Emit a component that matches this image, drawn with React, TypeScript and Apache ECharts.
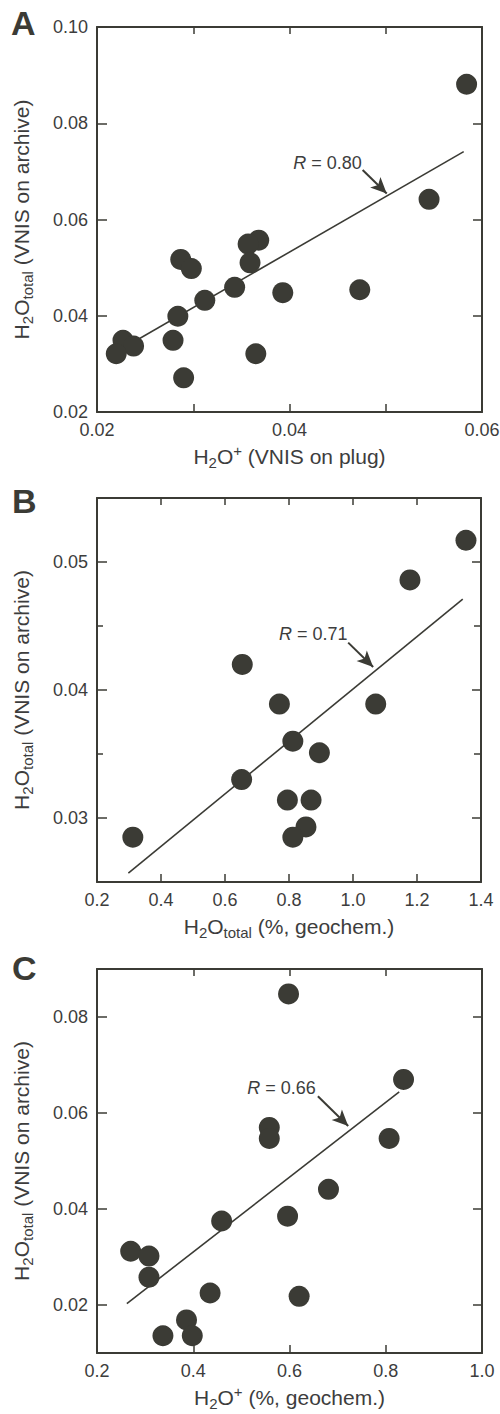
import React, { useEffect, useRef } from "react";
import * as echarts from "echarts";

// ---------- data ----------
const A_x = [0.0584, 0.0545, 0.0368, 0.0357, 0.0359, 0.0287, 0.0298, 0.0343, 0.0393, 0.0473, 0.0312, 0.0284, 0.0227, 0.0238, 0.022, 0.0279, 0.0365, 0.029];
const A_y = [0.0881, 0.0642, 0.0557, 0.0549, 0.051, 0.0517, 0.0498, 0.0459, 0.0448, 0.0454, 0.0432, 0.0399, 0.0349, 0.0337, 0.0321, 0.0349, 0.0321, 0.0271];
const A_fit = [[0.0215, 0.0319], [0.0581, 0.0741]];
const A_R = "0.80";
const A_Rpos = [0.0404, 0.0717];
const A_arrow = [[0.0476, 0.0703], [0.0501, 0.0654]];
const A_xTicks = [0.02, 0.03, 0.04, 0.05, 0.06];
const A_xLabels = [0.02, 0.04, 0.06];
const A_yLabels = [0.02, 0.04, 0.06, 0.08, 0.1];

const B_x = [1.353, 1.178, 0.654, 0.77, 1.071, 0.812, 0.895, 0.652, 0.795, 0.869, 0.853, 0.812, 0.312];
const B_y = [0.0517, 0.0486, 0.042, 0.0389, 0.0389, 0.036, 0.0351, 0.033, 0.0314, 0.0314, 0.0293, 0.0285, 0.0285];
const B_fit = [[0.298, 0.0257], [1.343, 0.0471]];
const B_R = "0.71";
const B_Rpos = [0.769, 0.0444];
const B_arrow = [[0.985, 0.0437], [1.063, 0.0418]];
const B_xLabels = [0.2, 0.4, 0.6, 0.8, 1.0, 1.2, 1.4];
const B_yLabels = [0.03, 0.04, 0.05];
const B_yMinor = [0.035, 0.045];

const C_x = [0.598, 0.837, 0.558, 0.558, 0.807, 0.681, 0.459, 0.596, 0.27, 0.308, 0.308, 0.435, 0.62, 0.386, 0.337, 0.398];
const C_y = [0.0848, 0.067, 0.057, 0.0547, 0.0547, 0.0441, 0.0375, 0.0385, 0.0312, 0.0302, 0.0258, 0.0225, 0.0218, 0.0169, 0.0136, 0.0136];
const C_fit = [[0.262, 0.0203], [0.828, 0.0644]];
const C_R = "0.66";
const C_Rpos = [0.512, 0.0653];
const C_arrow = [[0.659, 0.0635], [0.722, 0.0573]];
const C_xLabels = [0.2, 0.4, 0.6, 0.8, 1.0];
const C_yLabels = [0.02, 0.04, 0.06, 0.08];

// ---------- style ----------
const INK = "#3b3b35";
const TXT = "#3d3d3d";
const FONT = "'Liberation Sans', Arial, Helvetica, sans-serif";
const TICK_FS = 18;
const TITLE_FS = 21;

function titleRich(fs: number) {
  const sub = Math.round(fs * 0.7);
  return {
    m: { fontSize: fs, lineHeight: fs + 6, fontFamily: FONT, color: TXT },
    s: { fontSize: sub, lineHeight: sub, verticalAlign: "bottom", fontFamily: FONT, color: TXT },
    p: { fontSize: sub, lineHeight: sub, verticalAlign: "top", fontFamily: FONT, color: TXT },
  };
}

const NAME_Y = "{m|H}{s|2}{m|O}{s|total}{m| (VNIS on archive)}";
const NAME_XA = "{m|H}{s|2}{m|O}{p|+}{m| (VNIS on plug)}";
const NAME_XB = "{m|H}{s|2}{m|O}{s|total}{m| (%, geochem.)}";
const NAME_XC = "{m|H}{s|2}{m|O}{p|+}{m| (%, geochem.)}";

function lineStyle() {
  return { show: true, lineStyle: { color: INK, width: 2 } };
}

function xAxes(grid: number, min: number, max: number, ticks: number[], labels: number[], dec: number, name: string) {
  const common = {
    type: "value",
    gridIndex: grid,
    min,
    max,
    splitLine: { show: false },
    axisLine: lineStyle(),
  };
  return [
    {
      ...common,
      position: "bottom",
      name,
      nameLocation: "middle",
      nameGap: 31,
      nameMoveOverlap: false,
      nameTextStyle: { rich: titleRich(TITLE_FS) },
      axisTick: { show: true, inside: true, length: 8, customValues: ticks, lineStyle: { color: INK, width: 1.5 } },
      axisLabel: {
        show: true,
        customValues: labels,
        margin: 9,
        fontSize: TICK_FS,
        fontFamily: FONT,
        color: TXT,
        formatter: (v: number) => v.toFixed(dec),
      },
    },
    {
      ...common,
      position: "top",
      axisTick: { show: true, inside: true, length: 7, customValues: ticks, lineStyle: { color: INK, width: 1.5 } },
      axisLabel: { show: false },
    },
  ];
}

function yAxes(grid: number, min: number, max: number, ticks: number[], labels: number[], dec: number, minor?: number[]) {
  const common = {
    type: "value",
    gridIndex: grid,
    min,
    max,
    splitLine: { show: false },
    axisLine: lineStyle(),
  };
  const axes: any[] = [
    {
      ...common,
      position: "left",
      name: NAME_Y,
      nameLocation: "middle",
      nameRotate: 90,
      nameGap: 62,
      nameMoveOverlap: false,
      nameTextStyle: { rich: titleRich(TITLE_FS) },
      axisTick: { show: true, inside: true, length: 10, customValues: ticks, lineStyle: { color: INK, width: 1.5 } },
      axisLabel: {
        show: true,
        customValues: labels,
        margin: 9,
        fontSize: TICK_FS,
        fontFamily: FONT,
        color: TXT,
        formatter: (v: number) => v.toFixed(dec),
      },
    },
    {
      ...common,
      position: "right",
      axisTick: { show: true, inside: true, length: 9, customValues: ticks, lineStyle: { color: INK, width: 1.5 } },
      axisLabel: { show: false },
    },
  ];
  if (minor) {
    axes.push({
      ...common,
      position: "left",
      axisLine: { show: false },
      axisTick: { show: true, inside: true, length: 6, customValues: minor, lineStyle: { color: INK, width: 1.5 } },
      axisLabel: { show: false },
    });
    axes.push({
      ...common,
      position: "right",
      axisLine: { show: false },
      axisTick: { show: true, inside: true, length: 7, customValues: minor, lineStyle: { color: INK, width: 1.5 } },
      axisLabel: { show: false },
    });
  }
  return axes;
}

function panelSeries(xi: number, yi: number, xs: number[], ys: number[], fit: number[][], R: string, Rpos: number[], arrow: number[][]) {
  return [
    {
      type: "line",
      xAxisIndex: xi,
      yAxisIndex: yi,
      data: fit,
      symbol: "none",
      silent: true,
      lineStyle: { color: INK, width: 1.6 },
      z: 2,
    },
    {
      type: "scatter",
      xAxisIndex: xi,
      yAxisIndex: yi,
      data: xs.map((x, i) => [x, ys[i]]),
      symbol: "circle",
      symbolSize: 21,
      itemStyle: { color: INK, opacity: 1 },
      silent: true,
      z: 3,
      markLine: {
        silent: true,
        animation: false,
        symbol: ["none", "arrow"],
        symbolSize: [11, 16],
        label: { show: false },
        lineStyle: { color: INK, width: 2, type: "solid" },
        data: [[{ coord: arrow[0] }, { coord: arrow[1] }]],
      },
      markPoint: {
        silent: true,
        animation: false,
        symbol: "circle",
        symbolSize: 0,
        data: [
          {
            coord: Rpos,
            label: {
              show: true,
              position: "right",
              distance: 0,
              formatter: "{i|R}{n| = " + R + "}",
              rich: {
                i: { fontStyle: "italic", fontSize: 18, fontFamily: FONT, color: TXT },
                n: { fontSize: 18, fontFamily: FONT, color: TXT },
              },
            },
          },
        ],
      },
    },
  ];
}

export default function App() {
  const ref = useRef<HTMLDivElement>(null);
  useEffect(() => {
    document.body.style.margin = "0";
    if (!ref.current) return;
    const chart = echarts.init(ref.current, undefined, { renderer: "svg" });
    const grids = [
      { left: 97, top: 27, width: 385, height: 385 },
      { left: 97, top: 498, width: 384, height: 384 },
      { left: 97, top: 969, width: 385, height: 384 },
    ].map((g) => ({ ...g, outerBoundsMode: "none", containLabel: false }));

    const xAxis = [
      ...xAxes(0, 0.02, 0.06, A_xTicks, A_xLabels, 2, NAME_XA),
      ...xAxes(1, 0.2, 1.4, B_xLabels, B_xLabels, 1, NAME_XB),
      ...xAxes(2, 0.2, 1.0, C_xLabels, C_xLabels, 1, NAME_XC),
    ];
    const yAxis = [
      ...yAxes(0, 0.02, 0.1, A_yLabels, A_yLabels, 2),
      ...yAxes(1, 0.025, 0.055, B_yLabels, B_yLabels, 2, B_yMinor),
      ...yAxes(2, 0.01, 0.09, C_yLabels, C_yLabels, 2),
    ];
    const letterStyle = { fontSize: 34, fontWeight: "bold", fontFamily: FONT, fill: INK, verticalAlign: "middle" };
    chart.setOption({
      animation: false,
      backgroundColor: "#ffffff",
      grid: grids,
      xAxis,
      yAxis,
      series: [
        ...panelSeries(0, 0, A_x, A_y, A_fit, A_R, A_Rpos, A_arrow),
        ...panelSeries(2, 2, B_x, B_y, B_fit, B_R, B_Rpos, B_arrow),
        ...panelSeries(4, 6, C_x, C_y, C_fit, C_R, C_Rpos, C_arrow),
      ],
      graphic: [
        { type: "text", x: 11, y: 23, style: { ...letterStyle, text: "A" } },
        { type: "text", x: 12, y: 501, style: { ...letterStyle, text: "B" } },
        { type: "text", x: 12, y: 968, style: { ...letterStyle, text: "C" } },
      ],
    });
    return () => chart.dispose();
  }, []);
  return <div ref={ref} style={{ width: 500, height: 1414 }} />;
}
